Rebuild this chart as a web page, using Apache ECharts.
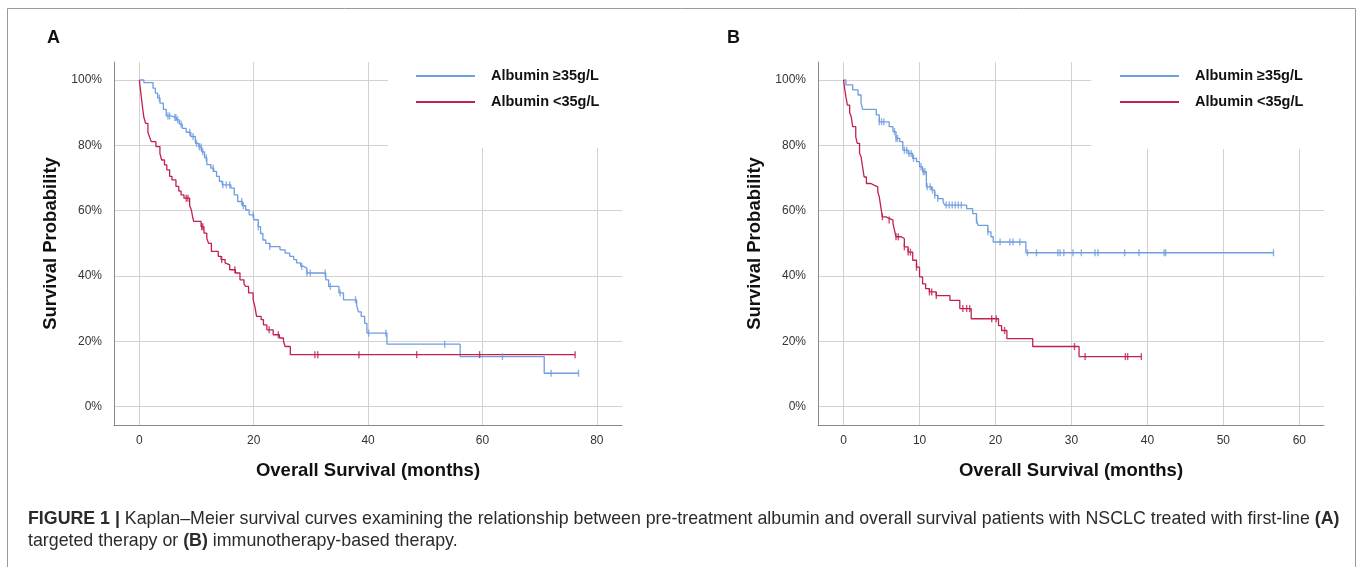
<!DOCTYPE html>
<html>
<head>
<meta charset="utf-8">
<script src="https://cdn.jsdelivr.net/npm/echarts@6/dist/echarts.min.js"></script>
<style>
html,body{margin:0;padding:0;background:#fff;}
#c{width:1357px;height:567px;}
</style>
</head>
<body>
<div id="c"></div>
<script>
// ---------- data ----------
const seriesNames = ['Albumin ≥35g/L', 'Albumin <35g/L'];
const yTicks = [0, 20, 40, 60, 80, 100];
const xTicksA = [0, 20, 40, 60, 80];
const xTicksB = [0, 10, 20, 30, 40, 50, 60];

// Panel A (targeted therapy): [months, survival %] after each drop
const highA = [[0,100],[0.8,99.2],[2.4,97.5],[2.8,96],[3.2,94.5],[3.6,92.9],[4.2,91],[4.7,89],[5.5,88.5],[6.5,87.8],[7.0,86.5],[7.5,85.2],[8.2,84],[9.0,82.7],[9.8,80.6],[10.4,79.5],[10.9,78],[11.4,76.2],[11.8,74.1],[12.5,73],[13,72],[13.5,70.5],[14,69],[14.5,67.9],[16,66.9],[16.6,64.8],[17.2,62.8],[18,61.5],[18.6,60.2],[19.2,58.7],[20,57.2],[20.8,55.1],[21.2,53],[21.6,51],[22.1,50],[22.8,49],[24.6,48],[25.5,47],[26.3,46],[27,45],[27.5,44],[28.2,43],[28.6,42.4],[29.3,40.9],[32.6,38.8],[33.1,36.8],[34.9,34.8],[35.7,32.7],[38,31],[38.3,29],[38.8,27.6],[39.4,25.5],[39.8,22.5],[43.3,19.1],[56.1,15.3],[70.8,10.2],[76.8,10.2]];
const highACensor = [3.5,5.0,5.3,6.2,6.4,6.7,7.3,8.8,9.4,10.0,10.5,10.8,11.1,11.7,12.9,14.6,15.2,15.8,17.9,18.2,19.9,20.8,22.8,28.4,29.3,29.9,32.5,33.4,35.1,37.8,40.1,43.1,53.4,63.5,72.0,76.8];
const lowA = [[0,100],[0.2,97],[0.4,94],[0.6,91],[0.8,88.5],[1.1,86.7],[1.5,84],[1.8,82.5],[2.1,81.1],[2.9,79.6],[3.6,77.5],[3.9,75.5],[4.4,74],[4.8,72.5],[5.3,70.5],[5.7,69.4],[6.4,67.4],[6.9,66],[7.3,64.8],[7.8,63.8],[8.8,61.5],[9.1,60.2],[9.3,58.2],[9.5,56.7],[10.8,55.1],[11.3,53.1],[11.8,51.5],[12.1,50],[12.6,47.5],[13.8,46],[14.3,45],[15.0,44],[15.3,43.4],[15.8,41.9],[16.8,40.9],[17.6,38.8],[18.3,37.5],[18.6,36.8],[19.1,34.8],[19.9,32.7],[20.2,30.7],[20.5,27.6],[21.3,26.6],[21.7,25],[22.3,23.5],[23.4,22],[24.5,21],[25.2,20],[25.5,18.4],[26.4,15.9],[76.2,15.9]];
const lowACensor = [8.2,8.5,10.9,11.1,14.4,16.7,22.7,24.3,30.7,31.2,38.4,48.5,59.5,76.2];

// Panel B (immunotherapy-based therapy)
const highB = [[0,100],[0.3,98.5],[1.2,97],[1.9,95.4],[2.3,93],[2.5,91],[4.3,89.3],[4.7,87.2],[6.0,85.7],[6.5,84.2],[6.9,82.1],[7.4,81.1],[7.8,78.5],[8.5,77.5],[9.1,76],[9.6,75],[10.0,73.4],[10.4,71.9],[10.9,67.3],[11.6,66.3],[12.0,64.7],[12.4,63.7],[13.1,62.7],[13.3,61.7],[16.2,60.6],[17.0,59.1],[17.5,57.1],[17.7,55.5],[19.0,53.5],[19.4,52],[19.7,50.4],[24.0,47.1],[56.6,47.1]];
const highBCensor = [4.7,5.0,5.3,6.7,6.9,7.1,8.0,8.3,8.6,8.9,9.2,10.2,10.5,10.7,11.0,11.4,11.7,12.0,12.4,13.5,13.9,14.3,14.7,15.1,15.5,17.5,19.0,20.6,21.9,22.3,23.2,24.2,25.4,28.2,28.5,29.0,30.2,31.3,33.1,33.5,37.0,38.9,42.2,42.4,56.6];
const lowB = [[0,100],[0.1,98],[0.3,94.9],[0.5,92.3],[0.8,90],[1.0,88.8],[1.2,85.7],[1.6,82.6],[1.8,80.6],[2.1,77.5],[2.3,76.5],[2.5,73.4],[2.7,70.3],[3.0,68.3],[3.6,67.8],[4.0,67.3],[4.5,65.7],[4.7,64.2],[4.9,61.1],[5.1,58.1],[5.6,57.6],[6.0,57.1],[6.5,56],[6.7,54],[6.9,52],[7.6,51.4],[8.0,48.9],[8.5,47.3],[9.1,44.8],[9.6,42.7],[10.0,39.7],[10.4,37.6],[10.8,36.1],[11.3,35.1],[12.2,34],[14.0,32.5],[15.3,30],[16.8,26.9],[20.4,24.8],[20.8,23.3],[21.5,20.8],[24.9,18.4],[31.0,15.3],[39.2,15.3]];
const lowBCensor = [5.1,6.0,6.9,7.2,8.0,8.5,8.8,9.6,11.3,11.6,12.2,15.7,16.2,16.6,19.5,20.1,21.2,30.4,31.8,37.1,37.4,39.2];

const captionLine1 = '{b|FIGURE 1 |} Kaplan–Meier survival curves examining the relationship between pre-treatment albumin and overall survival patients with NSCLC treated with first-line {b|(A)}';
const captionLine2 = 'targeted therapy or {b|(B)} immunotherapy-based therapy.';

// ---------- styles ----------
const BLUE = '#6f9de0';
const RED = '#c2204c';
const FONT = '"Liberation Sans", Arial, sans-serif';
const Y_MIN = -5.64, Y_MAX = 105.51;
const XA_MIN = -4.43, XA_MAX = 84.4;
const XB_MIN = -3.37, XB_MAX = 63.25;
const CAP_SIZE = 17.8;

function survivalAt(curve, t) {
  let v = curve[0][1];
  for (const p of curve) { if (p[0] <= t) v = p[1]; else break; }
  return v;
}
function censorPoints(curve, times) { return times.map(t => [t, survivalAt(curve, t)]); }

function xAxis(gridIndex, min, max, ticks) {
  return {
    type: 'value', gridIndex, min, max,
    axisLine: { show: true, onZero: false, lineStyle: { color: '#8a8a8a', width: 1 } },
    axisTick: { show: false, customValues: ticks },
    axisLabel: { customValues: ticks, color: '#333', fontSize: 12, fontFamily: FONT, margin: 10 },
    splitLine: { show: true, lineStyle: { color: '#d2d2d2', width: 1 } },
    name: 'Overall Survival (months)', nameLocation: 'middle', nameGap: 36,
    nameTextStyle: { fontFamily: FONT, fontWeight: 'bold', fontSize: 18.5, color: '#111' }
  };
}
function yAxis(gridIndex) {
  return {
    type: 'value', gridIndex, min: Y_MIN, max: Y_MAX,
    axisLine: { show: true, onZero: false, lineStyle: { color: '#8a8a8a', width: 1 } },
    axisTick: { show: false, customValues: yTicks },
    axisLabel: { customValues: yTicks, formatter: '{value}%', color: '#333', fontSize: 12, fontFamily: FONT, margin: 12 },
    splitLine: { show: true, lineStyle: { color: '#d2d2d2', width: 1 } },
    name: 'Survival Probability', nameLocation: 'middle', nameGap: 54, nameRotate: 90,
    nameTextStyle: { fontFamily: FONT, fontWeight: 'bold', fontSize: 18.5, color: '#111' }
  };
}
function curveSeries(name, data, color, idx, box) {
  const s = {
    name, type: 'line', step: 'end', data, xAxisIndex: idx, yAxisIndex: idx,
    symbol: 'none', color, itemStyle: { color },
    lineStyle: { color, width: 1.3 }, z: 3, animation: false
  };
  if (box) {
    s.markArea = { silent: true, itemStyle: { color: '#fff', opacity: 1 }, label: { show: false },
      data: [[{ coord: box[0] }, { coord: box[1] }]] };
  }
  return s;
}
function censorSeries(data, color, idx) {
  return {
    name: 'censor', type: 'scatter', data, xAxisIndex: idx, yAxisIndex: idx,
    symbol: 'rect', symbolSize: [1.4, 7], itemStyle: { color }, z: 4, animation: false, silent: true
  };
}
function legend(left) {
  return {
    data: seriesNames, left, top: 63, orient: 'vertical', icon: 'rect',
    itemWidth: 59, itemHeight: 2, itemGap: 10, selectedMode: false,
    textStyle: { fontFamily: FONT, fontWeight: 'bold', fontSize: 14.5, color: '#111', lineHeight: 16, padding: [0, 0, 0, 11] }
  };
}

const chart = echarts.init(document.getElementById('c'), null, { renderer: 'canvas' });
chart.setOption({
  animation: false,
  backgroundColor: '#fff',
  grid: [
    { left: 114, top: 62, width: 508, height: 363 },
    { left: 818, top: 62, width: 506, height: 363 }
  ],
  xAxis: [xAxis(0, XA_MIN, XA_MAX, xTicksA), xAxis(1, XB_MIN, XB_MAX, xTicksB)],
  yAxis: [yAxis(0), yAxis(1)],
  legend: [legend(411), legend(1115)],
  series: [
    curveSeries(seriesNames[0], highA, BLUE, 0, [[43.5, 79.2], [XA_MAX, Y_MAX]]),
    curveSeries(seriesNames[1], lowA, RED, 0),
    censorSeries(censorPoints(highA, highACensor), BLUE, 0),
    censorSeries(censorPoints(lowA, lowACensor), RED, 0),
    curveSeries(seriesNames[0], highB, BLUE, 1, [[32.6, 78.9], [XB_MAX, Y_MAX]]),
    curveSeries(seriesNames[1], lowB, RED, 1),
    censorSeries(censorPoints(highB, highBCensor), BLUE, 1),
    censorSeries(censorPoints(lowB, lowBCensor), RED, 1)
  ],
  graphic: [
    { type: 'rect', silent: true, z: 100, shape: { x: 7.5, y: 8.5, width: 1348, height: 620 },
      style: { fill: 'none', stroke: '#9a9a9a', lineWidth: 1 } },
    { type: 'text', left: 47, top: 29, z: 100, style: { text: 'A', font: 'bold 18px ' + FONT, fill: '#111' } },
    { type: 'text', left: 727, top: 29, z: 100, style: { text: 'B', font: 'bold 18px ' + FONT, fill: '#111' } },
    { type: 'text', x: 28, y: 508, z: 100, style: {
        text: captionLine1 + '\n' + captionLine2,
        font: CAP_SIZE + 'px ' + FONT, fill: '#2b2b2b', lineHeight: 22, verticalAlign: 'top',
        rich: { b: { fontWeight: 'bold', fontFamily: FONT, fontSize: CAP_SIZE, lineHeight: 22, fill: '#2b2b2b' } }
    } }
  ]
});
</script>
</body>
</html>
